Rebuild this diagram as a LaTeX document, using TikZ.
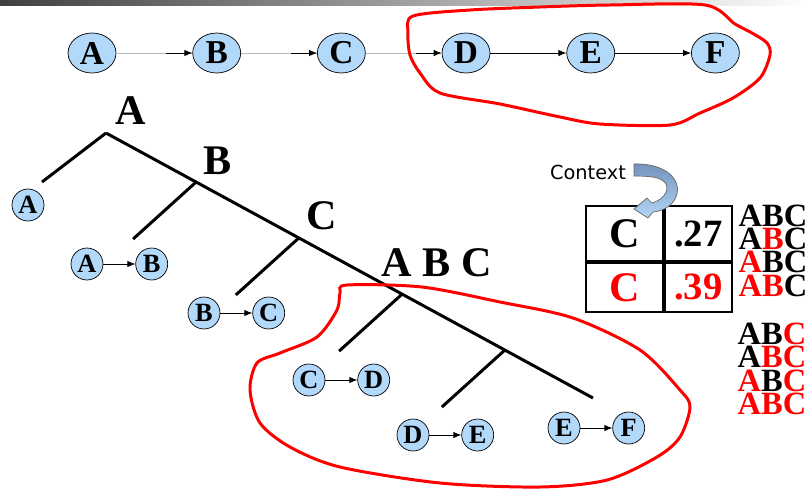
\documentclass[tikz,border=0pt]{standalone}
\usepackage{fontspec}
\setmainfont{Liberation Serif}
\newfontfamily\serifbf{Liberation Serif}
\newfontfamily\ctxfont{DejaVu Sans}
\usepackage{xcolor}
\usetikzlibrary{arrows.meta, positioning, calc, shapes.geometric}
\definecolor{nodeblue}{RGB}{178,216,250}
\definecolor{ctxdark}{RGB}{116,146,188}
\definecolor{ctxlight}{RGB}{178,214,246}
\newcommand{\rd}[1]{\textcolor{red}{#1}}
\newcommand{\fs}[1]{\serifbf\fontsize{#1}{#1}\selectfont\bfseries}

\begin{document}
\begin{tikzpicture}[
   x=0.02cm, y=-0.02cm,
   node distance=15.2mm,
   seq/.style={ellipse, draw, fill=nodeblue, minimum width=9.6mm,
               minimum height=8mm, inner sep=0pt, font=\fs{19}},
   obs/.style={circle, draw, fill=nodeblue, minimum size=6.4mm,
               inner sep=0pt, font=\fs{15}},
   lbl/.style={inner sep=0pt, font=\fs{24}},
   cell/.style={draw, line width=1.1pt, inner sep=0pt, font=\fs{24}},
   branch/.style={line width=1.7pt},
   lasso/.style={red, line width=1.7pt},
   faint/.style={gray!55, line width=0.5pt},
   arr/.style={-{Latex[length=1.6mm, width=1.3mm]}, line width=0.5pt}]

  \useasboundingbox (0,0) rectangle (809,491);
  \shade[left color=black!75, right color=white] (0,0) rectangle (809,5);

  % the observed sequence
  \node[seq] (sA) at (92,53) {A};
  \node[seq, right=of sA] (sB) {B};
  \node[seq, right=of sB] (sC) {C};
  \node[seq, right=of sC] (sD) {D};
  \node[seq, right=of sD] (sE) {E};
  \node[seq, right=of sE] (sF) {F};

  \draw[faint] (sA) -- (sB);
  \draw[arr] ($(sB.west)-(26,0)$) -- (sB);
  \draw[faint] (sB) -- (sC);
  \draw[arr] ($(sC.west)-(26,0)$) -- (sC);
  \draw[faint] (sC) -- (sD);
  \draw[arr] ($(sD.west)-(26,0)$) -- (sD);
  \draw[arr] (sD) -- (sE);
  \draw[arr] (sE) -- (sF);

  \draw[lasso] plot[smooth cycle, tension=0.5] coordinates {
    (413,16) (470,10) (540,7) (610,5) (705,5) (735,24) (752,33)
    (767,43) (770,55) (760,78) (733,98) (700,113) (670,125) (600,124)
    (560,117) (500,104) (440,93) (420,73) (410,55) (408,33)};

  % context tree
  \coordinate (root) at (106,133);
  \coordinate (tip) at (593,398);
  \draw[branch] (root) -- (tip)
     coordinate[pos=0.185] (jB) coordinate[pos=0.396] (jC)
     coordinate[pos=0.608] (jABC) coordinate[pos=0.819] (jE);
  \draw[branch] (root) -- ++(-64,49);
  \foreach \j in {jB, jC, jABC, jE}
    \draw[branch] (\j) -- ++(-63,57);

  \node[lbl] (tA) at (131,111) {A};
  \node[lbl] (tB) at (218,161) {B};
  \node[lbl] (tC) at (322,216) {C};
  \node[lbl] (tABC) at (437,263) {A B C};

  \node[obs] (a0) at (28,205) {A};

  \node[obs] (a1) at (87,264) {A};
  \node[obs, right=6.4mm of a1] (b1) {B};
  \node[obs] (b2) at (204,313) {B};
  \node[obs, right=6.4mm of b2] (c2) {C};
  \node[obs] (c3) at (309,380) {C};
  \node[obs, right=6.4mm of c3] (d3) {D};
  \node[obs] (d4) at (413,435) {D};
  \node[obs, right=6.4mm of d4] (e4) {E};
  \node[obs] (e5) at (564,428) {E};
  \node[obs, right=6.4mm of e5] (f5) {F};

  \draw[arr] (a1) -- (b1);
  \draw[arr] (b2) -- (c2);
  \draw[arr] (c3) -- (d3);
  \draw[arr] (d4) -- (e4);
  \draw[arr] (e5) -- (f5);

  \draw[lasso] plot[smooth cycle, tension=0.5] coordinates {
    (347,285) (422,287) (500,302) (573,318) (640,350) (680,390)
    (690,407) (680,437) (657,457) (607,480) (540,487) (440,483)
    (340,467) (290,447) (260,423) (250,390) (257,363) (280,353)
    (317,337) (337,310) (340,293)};

  % probability table
  \node[cell, minimum width=15.4mm, minimum height=11mm] (c11) at (624.5,233.5) {C};
  \node[cell, minimum width=13.4mm, minimum height=11mm, right=0pt of c11,
        font=\fs{22}] (c12) {.27};
  \node[cell, minimum width=15.4mm, minimum height=9.8mm, below=0pt of c11,
        text=red] (c21) {C};
  \node[cell, minimum width=13.4mm, minimum height=9.8mm, right=0pt of c21,
        text=red, font=\fs{22}] (c22) {.39};

  \node[inner sep=0pt, font=\ctxfont\fontsize{11}{11}\selectfont] (ctx) at (588,172) {Context};
  \shade[top color=ctxdark, bottom color=ctxlight, draw=black!60, line width=0.4pt]
    (634,164) .. controls (668,163) and (684,182) .. (675,199)
    .. controls (670,208) and (661,211) .. (653,212) -- (648,218) -- (634,209)
    -- (647,198) -- (652,203) .. controls (666,199) and (672,186) .. (662,180)
    .. controls (657,177) and (648,176) .. (634,176) -- cycle;

  \node[inner sep=0pt, align=left, font=\fs{18.5}\linespread{0.72}\selectfont]
    (grp1) at (773,250.5) {ABC\\A\rd{B}C\\\rd{A}BC\\\rd{AB}C};
  \node[inner sep=0pt, align=left, font=\fs{18.5}\linespread{0.72}\selectfont]
    (grp2) at (772,369) {AB\rd{C}\\A\rd{BC}\\\rd{A}B\rd{C}\\\rd{ABC}};
\end{tikzpicture}
\end{document}
